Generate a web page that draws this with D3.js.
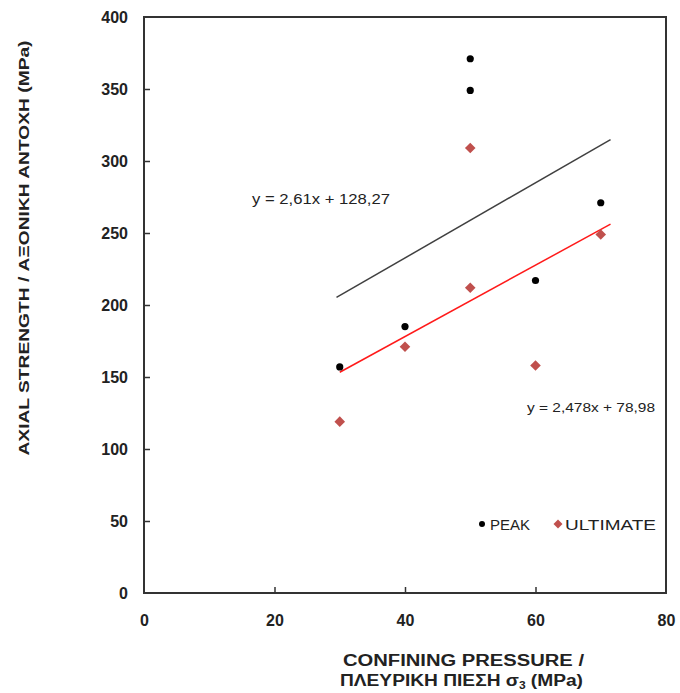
<!DOCTYPE html>
<html>
<head>
<meta charset="utf-8">
<script src="https://cdn.jsdelivr.net/npm/d3@7"></script>
<style>
  body { margin: 0; background: #fff; }
  text { font-family: "Liberation Sans", Arial, sans-serif; }
</style>
</head>
<body>
<div id="the_chart"></div>
<script>
// confining pressure (MPa) and axial strength (MPa)
var peakX = [30, 40, 50, 50, 60, 70];
var peakY = [157, 185, 371, 349, 217, 271];
var ultX = [30, 40, 50, 50, 60, 70];
var ultY = [119, 171, 309, 212, 158, 249];
var xTicks = [0, 20, 40, 60, 80];
var yTicks = [0, 50, 100, 150, 200, 250, 300, 350, 400];
// trend lines: slope, intercept, x range
var peakFit = { a: 2.61, b: 128.27, x0: 29.5, x1: 71.5 };
var ultFit = { a: 2.478, b: 78.98, x0: 30, x1: 71.5 };

var w = 680;
var h = 693;

var svg = d3.select("#the_chart")
    .append("svg")
    .attr("width", w)
    .attr("height", h);

var x = d3.scaleLinear().domain([0, 80]).range([144, 666]);
var y = d3.scaleLinear().domain([0, 400]).range([593, 17]);

// frame
svg.append("rect")
    .attr("x", x(0))
    .attr("y", y(400))
    .attr("width", x(80) - x(0))
    .attr("height", y(0) - y(400))
    .attr("fill", "none")
    .attr("stroke", "#333")
    .attr("stroke-width", 2);

// inward ticks
var xAxis = svg.append("g")
    .attr("transform", "translate(0," + y(0) + ")")
    .call(d3.axisBottom(x).tickValues(xTicks).tickSizeInner(-6).tickSizeOuter(0).tickPadding(22));
var yAxis = svg.append("g")
    .attr("transform", "translate(" + x(0) + ",0)")
    .call(d3.axisLeft(y).tickValues(yTicks).tickSizeInner(-6).tickSizeOuter(0).tickPadding(16));

[xAxis, yAxis].forEach(function (g) {
    g.select(".domain").remove();
    g.selectAll(".tick line").attr("stroke", "#333").attr("stroke-width", 1.5);
    g.selectAll(".tick text")
        .attr("font-size", 16)
        .attr("font-weight", "bold")
        .attr("fill", "#222")
        .style("font-family", "'Liberation Sans', Arial, sans-serif");
});
xAxis.selectAll(".tick").filter(function (d) { return d === 0 || d === 80; })
    .select("line").remove();
yAxis.selectAll(".tick").filter(function (d) { return d === 0 || d === 400; })
    .select("line").remove();
yAxis.selectAll(".tick text").attr("dy", "0.35em");

// trend lines
var fits = [
    { f: peakFit, color: "#404040" },
    { f: ultFit, color: "#ff1a1a" }
];
svg.selectAll("line.fit")
    .data(fits)
    .enter()
    .append("line")
    .attr("class", "fit")
    .attr("x1", function (d) { return x(d.f.x0); })
    .attr("y1", function (d) { return y(d.f.a * d.f.x0 + d.f.b); })
    .attr("x2", function (d) { return x(d.f.x1); })
    .attr("y2", function (d) { return y(d.f.a * d.f.x1 + d.f.b); })
    .attr("stroke", function (d) { return d.color; })
    .attr("stroke-width", 1.5);

// ultimate points (diamonds)
var diamond = d3.symbol().type(d3.symbolSquare).size(56);
svg.selectAll("path.ult")
    .data(ultX)
    .enter()
    .append("path")
    .attr("class", "ult")
    .attr("d", diamond)
    .attr("fill", "#c0504d")
    .attr("transform", function (d, i) {
        return "translate(" + x(d) + "," + y(ultY[i]) + ") rotate(45)";
    });

// peak points
svg.selectAll("circle.peak")
    .data(peakX)
    .enter()
    .append("circle")
    .attr("class", "peak")
    .attr("cx", function (d) { return x(d); })
    .attr("cy", function (d, i) { return y(peakY[i]); })
    .attr("r", 3.6)
    .attr("fill", "#000");

// equations
svg.append("text")
    .attr("x", 252)
    .attr("y", 204)
    .attr("font-size", 14)
    .attr("fill", "#222")
    .attr("textLength", 138)
    .attr("lengthAdjust", "spacingAndGlyphs")
    .text("y = 2,61x + 128,27");
svg.append("text")
    .attr("x", 527)
    .attr("y", 412)
    .attr("font-size", 12.5)
    .attr("fill", "#222")
    .attr("textLength", 128)
    .attr("lengthAdjust", "spacingAndGlyphs")
    .text("y = 2,478x  + 78,98");

// legend
svg.append("circle").attr("cx", 482).attr("cy", 524).attr("r", 3).attr("fill", "#000");
svg.append("text").attr("x", 490).attr("y", 530).attr("font-size", 15).attr("fill", "#222")
    .text("PEAK");
svg.append("path").attr("d", d3.symbol().type(d3.symbolSquare).size(40))
    .attr("fill", "#c0504d")
    .attr("transform", "translate(558,524) rotate(45)");
svg.append("text").attr("x", 565).attr("y", 530).attr("font-size", 15).attr("fill", "#222")
    .attr("textLength", 91).attr("lengthAdjust", "spacingAndGlyphs").text("ULTIMATE");

// axis titles
svg.append("text")
    .attr("x", 343)
    .attr("y", 666)
    .attr("font-size", 16)
    .attr("font-weight", "bold")
    .attr("fill", "#222")
    .attr("textLength", 241)
    .attr("lengthAdjust", "spacingAndGlyphs")
    .text("CONFINING PRESSURE  /");
var t2 = svg.append("text")
    .attr("x", 340)
    .attr("y", 686)
    .attr("font-size", 16)
    .attr("font-weight", "bold")
    .attr("fill", "#222")
    .attr("textLength", 243)
    .attr("lengthAdjust", "spacingAndGlyphs");
t2.append("tspan").text("ΠΛΕΥΡΙΚΗ ΠΙΕΣΗ  σ");
t2.append("tspan").attr("font-size", 10).attr("dy", 3).text("3");
t2.append("tspan").attr("dy", -3).text(" (MPa)");

svg.append("text")
    .attr("transform", "translate(29,248) rotate(-90)")
    .attr("text-anchor", "middle")
    .attr("font-size", 14)
    .attr("font-weight", "bold")
    .attr("fill", "#222")
    .attr("textLength", 415)
    .attr("lengthAdjust", "spacingAndGlyphs")
    .text("AXIAL  STRENGTH / ΑΞΟΝΙΚΗ ΑΝΤΟΧΗ (MPa)");
</script>
</body>
</html>
